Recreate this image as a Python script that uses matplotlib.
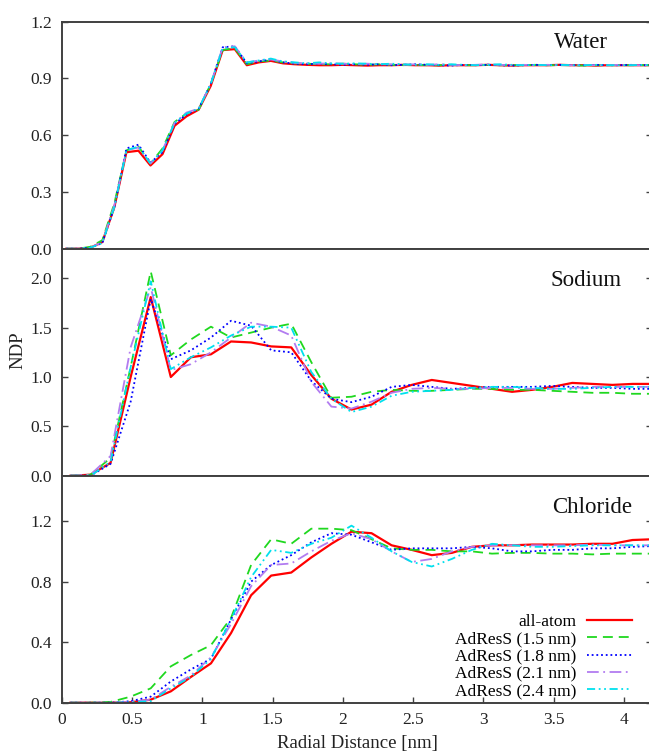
import numpy as np
import matplotlib
matplotlib.use('Agg')
import matplotlib.pyplot as plt

plt.rcParams['font.family'] = ['Liberation Serif', 'DejaVu Serif']

# series labels, colours and dash styles
labels = ['all-atom', 'AdResS (1.5 nm)', 'AdResS (1.8 nm)', 'AdResS (2.1 nm)', 'AdResS (2.4 nm)']
colors = ['#ff0000', '#1fd81f', '#0000ff', '#b27cf0', '#00e0ee']
dashes = [None, (5.5, 3.3), (1.0, 1.6), (6.5, 2.5, 1.0, 2.5), (4.5, 2.0, 1.0, 2.0, 1.0, 2.0)]

# water profile (fine bins, 0.0857 nm)
water_aa = [0.0, 0.0, 0.005, 0.035, 0.22, 0.51, 0.518, 0.44, 0.50, 0.65, 0.70, 0.735, 0.86, 1.05, 1.055, 0.97, 0.985, 0.993, 0.98,
            0.975, 0.972, 0.970, 0.970, 0.972, 0.970, 0.968, 0.970, 0.970, 0.972, 0.970, 0.970, 0.968, 0.970, 0.970, 0.970,
            0.972, 0.970, 0.968, 0.970, 0.970, 0.970, 0.972, 0.970, 0.970, 0.968, 0.970, 0.970, 0.970, 0.970, 0.970]
water_15 = [0.0, 0.0, 0.01, 0.045, 0.24, 0.52, 0.54, 0.45, 0.53, 0.67, 0.715, 0.735, 0.87, 1.05, 1.06, 0.975, 0.99, 0.995, 0.985,
            0.980, 0.978, 0.975, 0.975, 0.978, 0.975, 0.972, 0.975, 0.972, 0.970, 0.972, 0.970, 0.970, 0.972, 0.970, 0.970,
            0.972, 0.970, 0.970, 0.970, 0.972, 0.970, 0.970, 0.970, 0.968, 0.970, 0.970, 0.970, 0.970, 0.970, 0.970]
water_18 = [0.0, 0.0, 0.005, 0.03, 0.22, 0.53, 0.55, 0.455, 0.51, 0.66, 0.71, 0.74, 0.87, 1.065, 1.07, 0.98, 0.99, 1.0, 0.985,
            0.978, 0.975, 0.978, 0.975, 0.972, 0.975, 0.972, 0.975, 0.970, 0.972, 0.975, 0.972, 0.970, 0.968, 0.972, 0.970,
            0.972, 0.970, 0.968, 0.970, 0.972, 0.970, 0.972, 0.970, 0.970, 0.972, 0.970, 0.970, 0.972, 0.970, 0.970]
water_21 = [0.0, 0.0, 0.005, 0.035, 0.23, 0.52, 0.535, 0.45, 0.52, 0.665, 0.72, 0.74, 0.87, 1.065, 1.07, 0.985, 0.995, 1.0, 0.99,
            0.982, 0.980, 0.978, 0.980, 0.978, 0.975, 0.978, 0.975, 0.975, 0.972, 0.975, 0.972, 0.975, 0.972, 0.970, 0.972,
            0.975, 0.972, 0.970, 0.972, 0.970, 0.972, 0.970, 0.970, 0.972, 0.970, 0.970, 0.972, 0.970, 0.970, 0.970]
water_24 = [0.0, 0.0, 0.005, 0.03, 0.22, 0.52, 0.54, 0.45, 0.52, 0.665, 0.715, 0.74, 0.87, 1.06, 1.065, 0.985, 0.995, 1.005, 0.99,
            0.985, 0.980, 0.985, 0.980, 0.978, 0.980, 0.978, 0.975, 0.978, 0.975, 0.972, 0.975, 0.972, 0.975, 0.972, 0.970,
            0.972, 0.975, 0.972, 0.970, 0.972, 0.970, 0.972, 0.970, 0.970, 0.972, 0.970, 0.970, 0.970, 0.972, 0.970]

# sodium profile (coarse bins, 0.143 nm)
na_aa = [0.0, 0.01, 0.13, 1.0, 1.81, 1.0, 1.2, 1.23, 1.36, 1.35, 1.31, 1.30, 1.02, 0.78, 0.67,
         0.72, 0.85, 0.92, 0.97, 0.94, 0.91, 0.88, 0.85, 0.87, 0.90, 0.94, 0.93, 0.92, 0.93, 0.93]
na_15 = [0.0, 0.01, 0.18, 1.1, 2.07, 1.22, 1.38, 1.51, 1.40, 1.45, 1.50, 1.54, 1.15, 0.79, 0.80,
         0.85, 0.87, 0.86, 0.86, 0.87, 0.88, 0.88, 0.87, 0.87, 0.86, 0.85, 0.84, 0.84, 0.83, 0.83]
na_18 = [0.0, 0.0, 0.12, 0.75, 1.79, 1.18, 1.27, 1.40, 1.57, 1.52, 1.27, 1.25, 0.96, 0.78, 0.745,
         0.80, 0.90, 0.92, 0.90, 0.88, 0.89, 0.90, 0.90, 0.90, 0.91, 0.90, 0.89, 0.89, 0.88, 0.88]
na_21 = [0.0, 0.01, 0.2, 1.3, 1.91, 1.07, 1.13, 1.25, 1.40, 1.55, 1.51, 1.42, 0.95, 0.70, 0.68,
         0.75, 0.84, 0.88, 0.89, 0.88, 0.88, 0.89, 0.89, 0.88, 0.88, 0.89, 0.90, 0.90, 0.90, 0.90]
na_24 = [0.0, 0.0, 0.14, 1.1, 1.97, 1.08, 1.20, 1.30, 1.42, 1.51, 1.51, 1.50, 1.05, 0.78, 0.645,
         0.70, 0.81, 0.85, 0.86, 0.87, 0.89, 0.90, 0.90, 0.89, 0.88, 0.88, 0.89, 0.90, 0.90, 0.90]

# chloride profile (coarse bins, 0.143 nm)
cl_aa = [0.0, 0.0, 0.0, 0.003, 0.02, 0.075, 0.17, 0.26, 0.46, 0.71, 0.84, 0.86, 0.96, 1.05, 1.13,
         1.12, 1.04, 1.01, 0.975, 0.99, 1.03, 1.04, 1.04, 1.045, 1.045, 1.045, 1.05, 1.05, 1.075, 1.08]
cl_15 = [0.0, 0.0, 0.005, 0.04, 0.095, 0.24, 0.315, 0.38, 0.56, 0.91, 1.08, 1.05, 1.15, 1.15, 1.14,
         1.08, 1.02, 1.01, 1.01, 1.0, 1.0, 0.985, 0.99, 0.99, 0.985, 0.985, 0.98, 0.985, 0.985, 0.985]
cl_18 = [0.0, 0.0, 0.0, 0.01, 0.04, 0.14, 0.22, 0.29, 0.55, 0.80, 0.91, 0.975, 1.06, 1.12, 1.11,
         1.06, 1.01, 1.02, 1.02, 1.02, 1.03, 1.02, 1.0, 1.0, 1.01, 1.01, 1.02, 1.02, 1.03, 1.035]
cl_21 = [0.0, 0.0, 0.0, 0.005, 0.02, 0.105, 0.18, 0.30, 0.52, 0.77, 0.91, 0.92, 1.0, 1.07, 1.12,
         1.08, 1.0, 0.93, 0.95, 1.0, 1.03, 1.04, 1.04, 1.04, 1.04, 1.04, 1.045, 1.04, 1.04, 1.04]
cl_24 = [0.0, 0.0, 0.0, 0.003, 0.01, 0.095, 0.17, 0.29, 0.55, 0.83, 1.01, 0.99, 1.05, 1.09, 1.17,
         1.09, 1.0, 0.93, 0.90, 0.95, 1.01, 1.05, 1.04, 1.03, 1.03, 1.035, 1.04, 1.04, 1.04, 1.04]

panels = [
    ('Water', [water_aa, water_15, water_18, water_21, water_24], 0.03, 0.0857, 1.2, [0, 0.3, 0.6, 0.9, 1.2], (0.925, 0.885)),
    ('Sodium', [na_aa, na_15, na_18, na_21, na_24], 0.06, 0.1429, 2.3, [0, 0.5, 1.0, 1.5, 2.0], (0.949, 0.834)),
    ('Chloride', [cl_aa, cl_15, cl_18, cl_21, cl_24], 0.06, 0.1429, 1.5, [0, 0.4, 0.8, 1.2], (0.966, 0.835)),
]

fig = plt.figure(figsize=(6.49, 7.55), dpi=100)
gs = fig.add_gridspec(3, 1, left=62 / 649, right=652 / 649, top=1 - 21.7 / 755, bottom=1 - 702.7 / 755, hspace=0)

spine_col = '#404040'
for k, (name, series, x0, dx, ymax, yticks, tpos) in enumerate(panels):
    ax = fig.add_subplot(gs[k])
    for vals, lab, col, ds in zip(series, labels, colors, dashes):
        x = x0 + dx * np.arange(len(vals))
        lw = 1.6 if ds is None else 1.3
        line, = ax.plot(x, vals, color=col, lw=lw, label=lab)
        if ds is not None:
            line.set_dashes(ds)
    ax.set_xlim(0, 4.2)
    ax.set_ylim(0, ymax)
    ax.set_yticks(yticks)
    ax.set_yticklabels(['%.1f' % v for v in yticks])
    ax.tick_params(axis='y', direction='in', length=4, width=1, color=spine_col, right=True,
                   labelsize=12.5, pad=7, labelcolor='#222222')
    for s in ax.spines.values():
        s.set_color(spine_col)
        s.set_linewidth(1.4)
    ax.text(tpos[0], tpos[1], name, transform=ax.transAxes, ha='right', va='baseline',
            fontsize=16.5, color='#111111')
    if k < 2:
        ax.tick_params(axis='x', bottom=False, labelbottom=False)
    else:
        ax.set_xticks([0, 0.5, 1, 1.5, 2, 2.5, 3, 3.5, 4])
        ax.set_xticklabels(['0', '0.5', '1', '1.5', '2', '2.5', '3', '3.5', '4'])
        ax.tick_params(axis='x', direction='in', length=4, width=1, color=spine_col,
                       labelsize=12.5, pad=7, labelcolor='#222222')
        ax.set_xlabel('Radial Distance [nm]', fontsize=13.5, labelpad=5, color='#222222')
        ax.legend(loc='lower right', bbox_to_anchor=(0.99, -0.045), frameon=False, markerfirst=False,
                  fontsize=12.5, handlelength=2.6, labelspacing=0.06, handletextpad=0.6, borderpad=0.3)

fig.text(0.028, 0.536, 'NDP', rotation=90, ha='center', va='center', fontsize=13.5, color='#222222')

fig.savefig('out.png', dpi=100)
